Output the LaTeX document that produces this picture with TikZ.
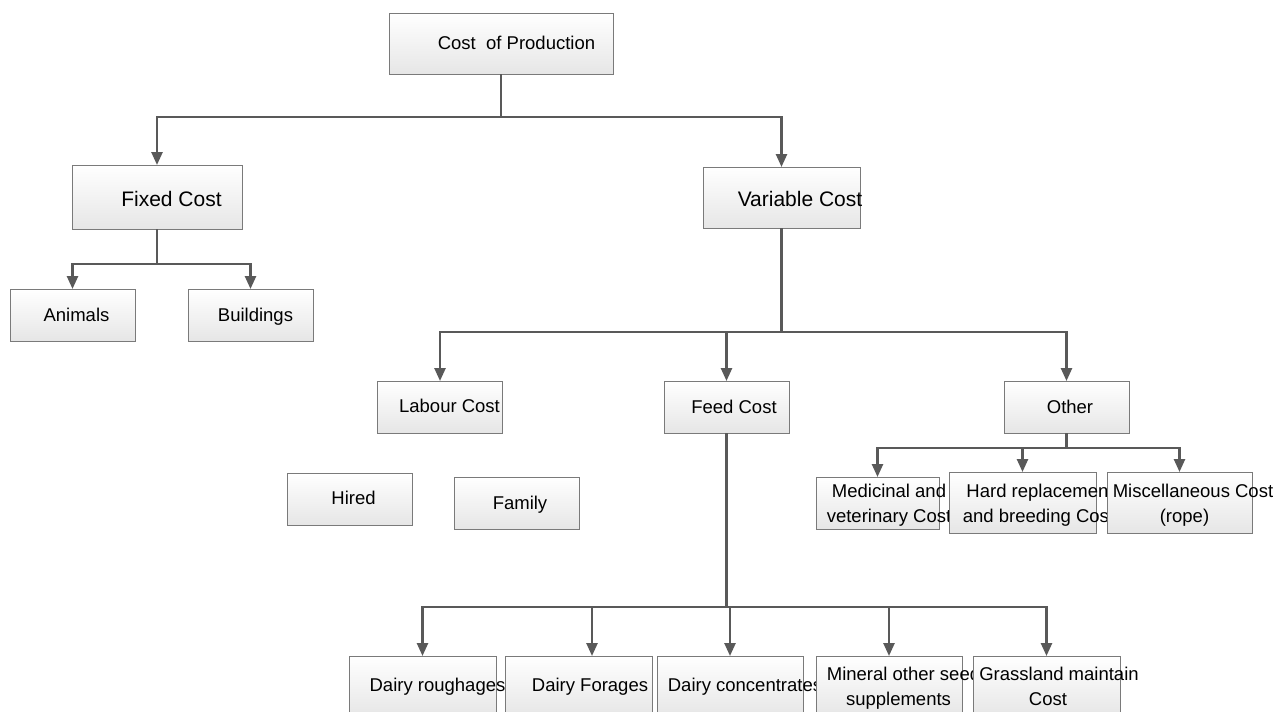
\documentclass[tikz,border=0pt]{standalone}
\usepackage{fontspec}
\setmainfont{Liberation Sans}
\usetikzlibrary{arrows.meta}
\definecolor{linegray}{HTML}{595959}
\definecolor{edgegray}{HTML}{7A7A7A}
\definecolor{fillbot}{HTML}{E6E6E6}
\tikzset{
 box/.style={draw=edgegray, line width=0.9pt, top color=white, bottom color=fillbot, inner sep=0pt, outer sep=0pt},
 txt/.style={anchor=base, inner sep=0pt, font=\fontsize{18.5}{22}\selectfont, text=black},
 bigtxt/.style={txt, font=\fontsize{21}{25}\selectfont},
 conn/.style={draw=linegray, line width=2.5pt},
 arr/.style={conn, -{Triangle[length=13pt,width=11pt]}},
}
\begin{document}
\begin{tikzpicture}[x=1pt,y=-1pt]
\clip (0,0) rectangle (1278,712);
\fill[white] (0,0) rectangle (1278,712);

% top level
\node[box, minimum width=224pt, minimum height=61pt] (cop) at (501,43.5) {};
\node[txt] (tcop) at (516.5,49.3) {Cost\ \ of Production};

\node[box, minimum width=170pt, minimum height=64pt] (fc) at (157,197) {};
\node[bigtxt] (tfc) at (171.5,206) {Fixed Cost};

\node[box, minimum width=157pt, minimum height=61pt] (vc) at (781.5,197.5) {};
\node[bigtxt] (tvc) at (800,206) {Variable Cost};

% fixed children
\node[box, minimum width=125pt, minimum height=52pt] (an) at (72.5,315) {};
\node[txt] (tan) at (76.5,321) {Animals};
\node[box, minimum width=125pt, minimum height=52pt] (bu) at (250.5,315) {};
\node[txt] (tbu) at (255.5,321) {Buildings};

% variable children
\node[box, minimum width=125pt, minimum height=52pt] (lab) at (440,407) {};
\node[txt] (tlab) at (449.5,412.5) {Labour Cost};
\node[box, minimum width=125pt, minimum height=52pt] (feed) at (726.5,407) {};
\node[txt] (tfeed) at (734,413) {Feed Cost};
\node[box, minimum width=125pt, minimum height=52pt] (oth) at (1066.5,407) {};
\node[txt] (toth) at (1070,413) {Other};

% labour (unconnected)
\node[box, minimum width=125pt, minimum height=52pt] (hir) at (350,499) {};
\node[txt] (thir) at (353.5,504) {Hired};
\node[box, minimum width=125pt, minimum height=52pt] (fam) at (516.5,503) {};
\node[txt] (tfam) at (520,509) {Family};

% other children
\node[box, minimum width=123pt, minimum height=52pt] (med) at (877.5,503) {};
\node[txt] (tmed1) at (889,497) {Medicinal and};
\node[txt] (tmed2) at (889,522) {veterinary Cost};
\node[box, minimum width=147pt, minimum height=61pt] (hard) at (1022.5,502.5) {};
\node[txt] (thard1) at (1040,497) {Hard replacement};
\node[txt] (thard2) at (1038.5,522) {and breeding Cost};
\node[box, minimum width=145pt, minimum height=61pt] (misc) at (1179.5,502.5) {};
\node[txt] (tmisc1) at (1193,497) {Miscellaneous Cost};
\node[txt] (tmisc2) at (1184.5,522) {(rope)};

% feed children
\node[box, minimum width=147pt, minimum height=61pt] (dr) at (422.5,686.5) {};
\node[txt] (tdr) at (437.5,691.5) {Dairy roughages};
\node[box, minimum width=147pt, minimum height=61pt] (df) at (578.5,686.5) {};
\node[txt] (tdf) at (590,691.5) {Dairy Forages};
\node[box, minimum width=146pt, minimum height=61pt] (dc) at (730,686.5) {};
\node[txt] (tdc) at (745,691.5) {Dairy concentrates};
\node[box, minimum width=146pt, minimum height=61pt] (mn) at (889,686.5) {};
\node[txt] (tmn1) at (903.5,680.5) {Mineral other seed};
\node[txt] (tmn2) at (898.5,705) {supplements};
\node[box, minimum width=147pt, minimum height=61pt] (gr) at (1046.5,686.5) {};
\node[txt] (tgr1) at (1059,680.5) {Grassland maintain};
\node[txt] (tgr2) at (1048,705) {Cost};

% bus levels
\coordinate (b0) at (0,117);
\coordinate (b1) at (0,264);
\coordinate (b2) at (0,332);
\coordinate (b3) at (0,448);
\coordinate (b4) at (0,607);

% connectors
\draw[conn] (cop.south) -- (cop.south |- b0);
\draw[arr] (cop.south |- b0) -| (fc.north);
\draw[arr] (cop.south |- b0) -| (vc.north);

\draw[conn] (fc.south) -- (fc.south |- b1);
\draw[arr] (fc.south |- b1) -| (an.north);
\draw[arr] (fc.south |- b1) -| (bu.north);

\draw[conn] (vc.south) -- (vc.south |- b2);
\draw[arr] (vc.south |- b2) -| (lab.north);
\draw[arr] (vc.south |- b2) -| (feed.north);
\draw[arr] (vc.south |- b2) -| (oth.north);

\draw[conn] (oth.south) -- (oth.south |- b3);
\draw[arr] (oth.south |- b3) -| (med.north);
\draw[arr] (oth.south |- b3) -| (hard.north);
\draw[arr] (oth.south |- b3) -| (misc.north);

\draw[conn] (feed.south) -- (feed.south |- b4);
\draw[arr] (feed.south |- b4) -| (dr.north);
\draw[arr] (feed.south |- b4) -| ([xshift=13.5pt]df.north);
\draw[arr] (feed.south |- b4) -| (dc.north);
\draw[arr] (feed.south |- b4) -| (mn.north);
\draw[arr] (feed.south |- b4) -| (gr.north);
\end{tikzpicture}
\end{document}
